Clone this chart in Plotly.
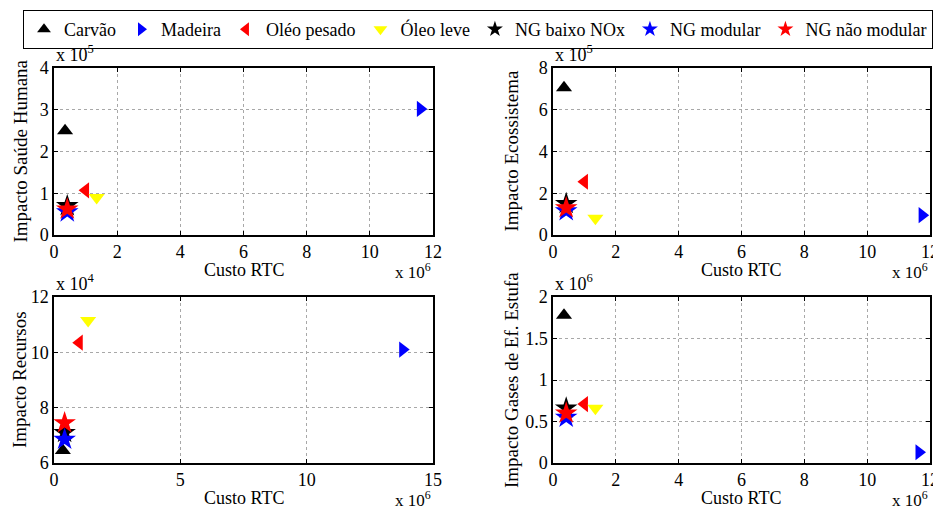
import plotly.graph_objects as go

series = ["Carvão", "Madeira", "Oléo pesado", "Óleo leve", "NG baixo NOx", "NG modular", "NG não modular"]
colors = ["black", "blue", "red", "yellow", "black", "blue", "red"]
symbols = ["triangle-up", "triangle-right", "triangle-left", "triangle-down", "star", "star", "star"]

# x: Custo RTC (x 1e6)
custo_saude = [0.35, 11.6, 1.0, 1.35, 0.42, 0.42, 0.42]
custo_eco = [0.35, 11.75, 1.0, 1.35, 0.42, 0.42, 0.42]
custo_rec = [0.35, 13.8, 1.0, 1.35, 0.42, 0.42, 0.42]
custo_gee = [0.35, 11.65, 1.0, 1.35, 0.42, 0.42, 0.42]

# y values
saude = [2.5e5, 3.02e5, 1.07e5, 0.9e5, 0.7e5, 0.55e5, 0.62e5]
ecossistema = [7.05e5, 0.95e5, 2.55e5, 0.8e5, 1.5e5, 1.15e5, 1.3e5]
recursos = [6.45e4, 10.1e4, 10.35e4, 11.15e4, 7.1e4, 6.85e4, 7.45e4]
gee = [1.78e6, 0.13e6, 0.71e6, 0.66e6, 0.66e6, 0.55e6, 0.6e6]

panels = [
    (custo_saude, saude, 1e5, "Impacto Saúde Humana", [0, 12], [0, 4], 2, 1, "5", 20),
    (custo_eco, ecossistema, 1e5, "Impacto Ecossistema", [0, 12], [0, 8], 2, 2, "5", 511),
    (custo_rec, recursos, 1e4, "Impacto Recursos", [0, 15], [6, 12], 5, 2, "4", 19),
    (custo_gee, gee, 1e6, "Impacto Gases de Ef. Estufa", [0, 12], [0, 2], 2, 0.5, "6", 511),
]

FONT = "Liberation Serif"
OFF = 8  # page body margin
W, H = 941, 511


def px(x):
    return (x - OFF) / W


def py(y):
    return 1 - (y - OFF) / H


fig = go.Figure()
xdoms = [[px(54), px(433)], [px(553), px(930)]]
ydoms = [[py(235), py(68)], [py(463), py(297)]]
axis_bottom = [235, 463]

annotations = []
for i, (xs, ys, scale, ytitle, xr, yr, dx, dy, exp, ytx) in enumerate(panels):
    row, col = divmod(i, 2)
    ax = "" if i == 0 else str(i + 1)
    for j, name in enumerate(series):
        size = 17 if symbols[j] == "star" else 14
        fig.add_trace(go.Scatter(
            x=[xs[j]], y=[ys[j] / scale], mode="markers", name=name,
            marker=dict(symbol=symbols[j], color=colors[j], size=size, line=dict(width=0)),
            showlegend=(i == 0), xaxis="x" + ax, yaxis="y" + ax, cliponaxis=False,
        ))
    axis_common = dict(
        showline=True, linecolor="black", linewidth=1.5, mirror="ticks", ticks="inside",
        ticklen=4, tickcolor="black", showgrid=True, gridcolor="#a8a8a8", griddash="dot",
        gridwidth=1, zeroline=False, automargin=False, ticklabeloverflow="allow",
        tickfont=dict(family=FONT, size=18, color="black"),
    )
    fig.update_layout(**{
        "xaxis" + ax: dict(domain=xdoms[col], range=xr, dtick=dx, anchor="y" + ax, **axis_common),
        "yaxis" + ax: dict(domain=ydoms[row], range=yr, dtick=dy, anchor="x" + ax, **axis_common),
    })
    x0, x1 = xdoms[col]
    y0, y1 = ydoms[row]
    ab = axis_bottom[row]
    # y-axis title
    annotations.append(dict(text=ytitle, textangle=-90, xref="paper", yref="paper",
                            x=px(ytx), y=(y0 + y1) / 2, xanchor="center", yanchor="middle",
                            showarrow=False, font=dict(family=FONT, size=19, color="black")))
    # x-axis title
    annotations.append(dict(text="Custo RTC", xref="paper", yref="paper",
                            x=(x0 + x1) / 2, y=py(ab + 35), xanchor="center", yanchor="middle",
                            showarrow=False, font=dict(family=FONT, size=18, color="black")))
    # y exponent
    annotations.append(dict(text="x 10<sup>" + exp + "</sup>", xref="paper", yref="paper",
                            x=x0, y=y1, xanchor="left", yanchor="bottom", yshift=1,
                            showarrow=False, font=dict(family=FONT, size=18, color="black")))
    # x exponent
    annotations.append(dict(text="x 10<sup>6</sup>", xref="paper", yref="paper",
                            x=x1, y=py(ab + 49), xanchor="right", yanchor="bottom",
                            showarrow=False, font=dict(family=FONT, size=17, color="black")))

fig.update_layout(
    width=W, height=H, margin=dict(l=0, r=0, t=0, b=0, autoexpand=False),
    paper_bgcolor="white", plot_bgcolor="white",
    annotations=annotations,
    legend=dict(orientation="h", xref="container", yref="container",
                x=px(23), y=py(10), xanchor="left", yanchor="top",
                bordercolor="black", borderwidth=1, bgcolor="white",
                font=dict(family=FONT, size=18, color="black"), itemsizing="constant"),
)

fig.write_html("out.html")
